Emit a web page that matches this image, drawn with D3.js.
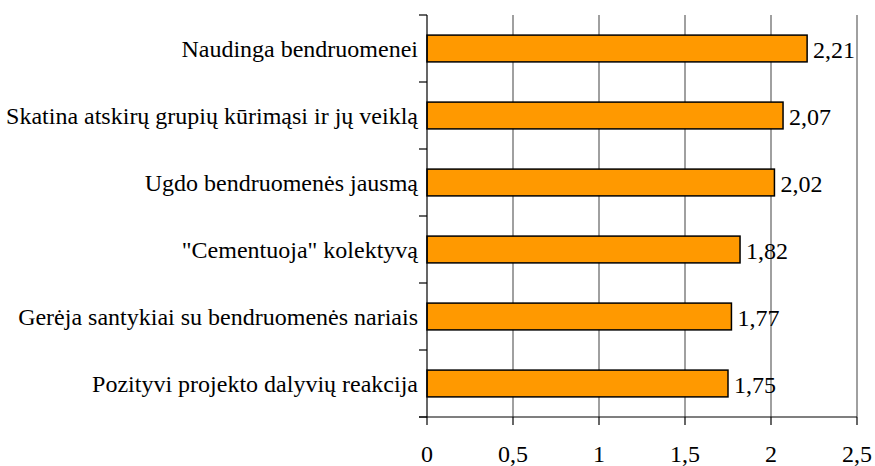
<!DOCTYPE html>
<html lang="lt">
<head>
<meta charset="utf-8">
<script src="https://d3js.org/d3.v7.min.js"></script>
<style>
  body { margin: 0; background: #fff; }
</style>
</head>
<body>
<script>
var categories = [
  "Naudinga bendruomenei",
  "Skatina atskirų grupių kūrimąsi ir jų veiklą",
  "Ugdo bendruomenės jausmą",
  "\"Cementuoja\" kolektyvą",
  "Gerėja santykiai su bendruomenės nariais",
  "Pozityvi projekto dalyvių reakcija"
];
var values = [2.21, 2.07, 2.02, 1.82, 1.77, 1.75];
var ticks = [0, 0.5, 1, 1.5, 2, 2.5];

var width = 875, height = 466;
var plotLeft = 427, plotRight = 857, plotTop = 15, plotBottom = 417;
var font = "'Liberation Serif', 'Times New Roman', serif";
var fs = "24px";
var fmt = function (v) { return String(v).replace(".", ","); };

var svg = d3.select("body").append("svg")
  .attr("width", width)
  .attr("height", height);

var x = d3.scaleLinear().domain([0, 2.5]).range([plotLeft, plotRight]);
var band = d3.scaleBand().domain(categories).range([plotTop, plotBottom]);
var bar = d3.scaleBand().domain(categories).range([plotTop, plotBottom])
  .paddingInner(0.6).paddingOuter(0.3);

// gridlines
svg.selectAll("line.grid")
  .data(ticks.slice(1))
  .enter().append("line")
  .attr("x1", function (d) { return x(d); })
  .attr("x2", function (d) { return x(d); })
  .attr("y1", plotTop)
  .attr("y2", plotBottom)
  .attr("stroke", "#808080")
  .attr("stroke-width", 1.5);

// bars
svg.selectAll("rect")
  .data(values)
  .enter().append("rect")
  .attr("x", x(0))
  .attr("y", function (d, i) { return bar(categories[i]); })
  .attr("width", function (d) { return x(d) - x(0); })
  .attr("height", bar.bandwidth())
  .attr("fill", "#FF9900")
  .attr("stroke", "#000")
  .attr("stroke-width", 1.5);

// value labels
svg.selectAll("text.val")
  .data(values)
  .enter().append("text")
  .attr("class", "val")
  .attr("x", function (d) { return x(d) + 6; })
  .attr("y", function (d, i) { return bar(categories[i]) + bar.bandwidth() / 2; })
  .attr("dy", "0.38em")
  .style("font-family", font)
  .style("font-size", fs)
  .text(fmt);

// y axis
var ya = svg.append("g");
ya.append("line")
  .attr("x1", plotLeft).attr("x2", plotLeft)
  .attr("y1", plotTop).attr("y2", plotBottom)
  .attr("stroke", "#000").attr("stroke-width", 1.2);
var yt = [plotTop].concat(categories.map(function (c) { return band(c) + band.step(); }));
ya.selectAll("line.t")
  .data(yt)
  .enter().append("line")
  .attr("x1", plotLeft - 8).attr("x2", plotLeft)
  .attr("y1", function (d) { return d; })
  .attr("y2", function (d) { return d; })
  .attr("stroke", "#000").attr("stroke-width", 1.2);
ya.selectAll("text")
  .data(categories)
  .enter().append("text")
  .attr("x", plotLeft - 9)
  .attr("y", function (d) { return bar(d) + bar.bandwidth() / 2; })
  .attr("dy", "0.35em")
  .attr("text-anchor", "end")
  .style("font-family", font)
  .style("font-size", fs)
  .text(function (d) { return d; });

// x axis
var xa = svg.append("g");
xa.append("line")
  .attr("x1", plotLeft - 8).attr("x2", plotRight)
  .attr("y1", plotBottom).attr("y2", plotBottom)
  .attr("stroke", "#000").attr("stroke-width", 1.2);
xa.selectAll("line.t")
  .data(ticks)
  .enter().append("line")
  .attr("x1", function (d) { return x(d); })
  .attr("x2", function (d) { return x(d); })
  .attr("y1", plotBottom).attr("y2", plotBottom + 8)
  .attr("stroke", "#000").attr("stroke-width", 1.2);
xa.selectAll("text")
  .data(ticks)
  .enter().append("text")
  .attr("x", function (d) { return x(d); })
  .attr("y", 462)
  .attr("text-anchor", "middle")
  .style("font-family", font)
  .style("font-size", fs)
  .text(fmt);
</script>
</body>
</html>
